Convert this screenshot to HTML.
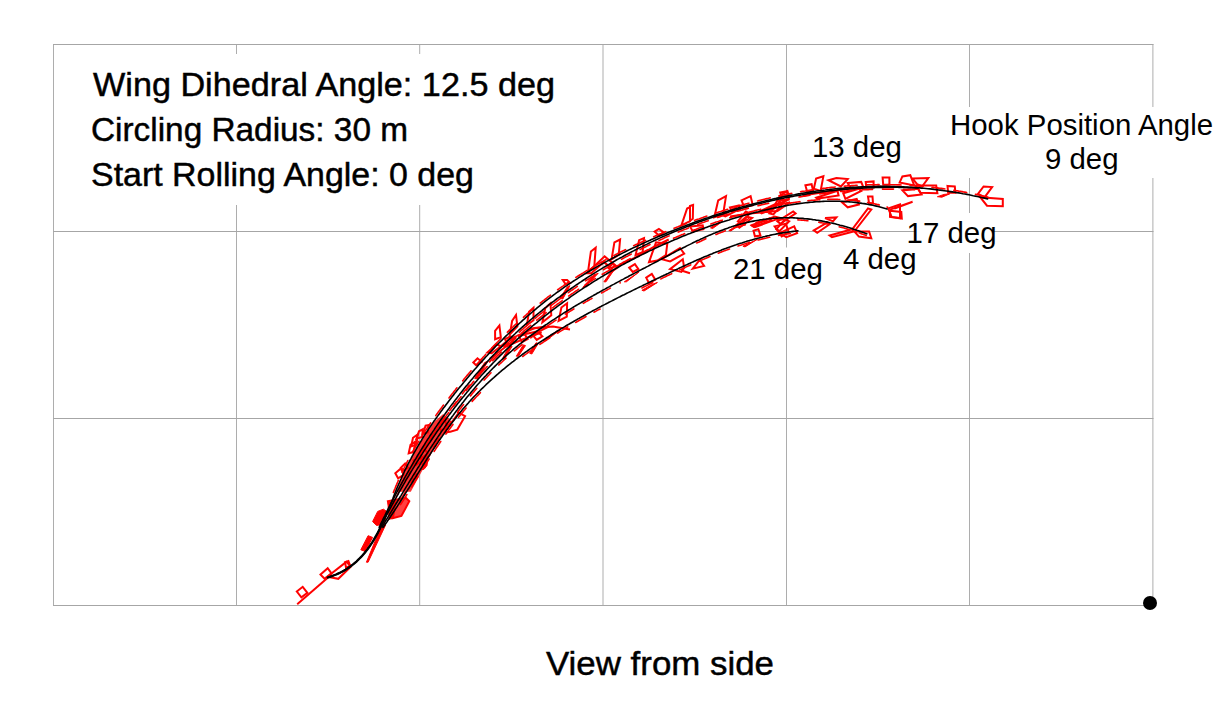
<!DOCTYPE html>
<html><head><meta charset="utf-8">
<style>
html,body{margin:0;padding:0;background:#fff;width:1229px;height:709px;overflow:hidden}
svg{display:block}
text{font-family:"Liberation Sans",sans-serif;fill:#000}
</style></head><body>
<svg width="1229" height="709" viewBox="0 0 1229 709">
<g id="grid" fill="none" stroke-width="1">
<path stroke="#adadad" d="M53.5 44V605.5M236.5 44V605.5M419.7 44V605.5M603 44V605.5M786.5 44V605.5M969.5 44V605.5M1152.9 44V605.5"/>
<path stroke="#a6a6a6" d="M53 44.5H1153.5M53 231.5H1153.5M53 418.5H1153.5M53 605.5H1153.5"/>
</g>
<g id="boxes" fill="#fff">
<rect x="70" y="54" width="520" height="151"/>
<rect x="945" y="107" width="270" height="71"/>
<rect x="916" y="213" width="77" height="40"/>
<rect x="730" y="247.5" width="95" height="40.5"/>
</g>
<g id="traj">
<g id="reds" stroke="#f00" stroke-width="2" stroke-linejoin="miter" fill="none">
<polyline points="297.2,604.2 331.5,574.6"/>
<polygon points="296.8,591.5 302.7,586.8 307.4,592.8 301.4,597.4"/>
<polygon points="320.5,574.6 327.7,568.2 331.5,573.3 324.7,578.8"/>
<polygon points="327.3,576.7 346.3,561.9 351.0,566.5 338.3,578.8"/>
<polygon points="360.8,549.8 368.1,535.7 372.6,537.4 365.3,551.5" fill="#f00" stroke-width="1"/>
<polygon points="366.4,562.2 382.2,523.9 385.6,525.0 368.1,562.2" fill="#f00" stroke-width="1"/>
<polygon points="372.6,521.6 377.7,511.4 383.4,509.2 386.7,511.4 384.5,523.9 376.6,525.5" fill="#f00" stroke-width="1"/>
<polygon points="387.9,501.3 405.9,497.9 409.3,501.3 401.4,516.0 392.4,518.2"/>
<polygon points="387.9,501.3 405.9,497.9 409.3,501.3 401.4,516.0 392.4,518.2" fill="#f00" fill-opacity="0.75" stroke="none"/>
<polygon points="387.9,502.4 395.8,501.3 393.5,518.2 389.0,519.3" fill="#f00" stroke-width="1"/>
<polygon points="345.0,562.2 348.4,561.1 350.1,565.6 346.1,567.9"/>
<polygon points="395.3,473.3 400.9,468.4 403.7,474.8 398.1,478.3"/>
<polygon points="400.9,467.7 405.1,463.5 408.0,467.7 403.7,470.5"/>
<polygon points="408.7,453.3 410.5,444.9 415.3,441.7 413.6,451.9"/>
<polygon points="411.1,446.5 413.0,437.8 417.8,434.4 416.4,444.6"/>
<polygon points="416.4,438.8 419.0,431.3 422.8,429.3 422.1,437.0"/>
<polygon points="422.8,433.9 425.6,425.7 429.1,425.1 427.7,432.4"/>
<polygon points="396.7,491.7 402.3,476.2 409.4,462.1 417.8,446.5 426.3,433.9 434.8,421.2 443.2,414.1 450.3,419.7 444.6,432.4 436.2,445.1 427.7,460.6 419.2,476.2 410.8,491.7" fill="#f00" fill-opacity="0.8" stroke="none"/>
<polygon points="444.6,432.4 458.7,412.7 465.1,416.2 457.3,429.6 450.3,431.7"/>
<polygon points="421.4,469.8 424.2,462.1 427.7,459.9 427.0,465.6 424.2,469.1" fill="#f00" stroke-width="1"/>
<polygon points="439.0,425.4 444.6,419.7 447.4,426.8 441.1,431.0"/>
<polygon points="413.6,460.6 419.2,456.4 422.1,460.6 416.4,464.9"/>
<polygon points="419.2,453.6 424.9,449.4 427.7,453.6 422.1,457.8"/>
<polygon points="473.3,362.5 477.5,358.3 481.7,361.8 476.1,365.3"/>
<polygon points="474.7,378.7 484.6,362.5 488.1,361.1 477.5,378.7" fill="#f00" stroke-width="1"/>
<polygon points="495.1,339.2 495.1,330.8 499.4,325.4 500.8,337.1"/>
<polygon points="509.9,334.3 512.1,320.9 516.0,315.0 517.4,326.5"/>
<polygon points="526.9,325.1 529.0,311.7 533.5,307.8 533.5,320.2"/>
<polygon points="542.4,322.3 545.2,308.2 550.4,303.3 551.3,315.3"/>
<polygon points="558.6,320.9 561.4,307.5 567.1,303.3 566.8,316.7"/>
<polygon points="487.4,352.6 496.5,344.2 500.8,346.3 491.6,353.3"/>
<polygon points="500.8,346.3 509.2,339.2 516.3,336.4 510.6,343.5"/>
<polygon points="505.0,339.2 510.6,336.4 513.5,342.1 507.8,344.9"/>
<polygon points="519.1,336.4 524.8,334.3 527.6,339.2 521.9,342.1"/>
<polygon points="533.2,335.7 538.9,332.9 542.4,336.4 536.7,339.9"/>
<polygon points="502.2,359.0 509.2,346.3 512.1,346.3 504.3,359.0" fill="#f00" stroke-width="1"/>
<polygon points="516.3,356.2 523.3,344.9 525.5,345.6 518.4,356.2" fill="#f00" stroke-width="1"/>
<polygon points="529.7,353.3 536.0,342.8 538.2,343.5 531.8,354.0" fill="#f00" stroke-width="1"/>
<polyline points="529.0,328.7 553.0,326.5 570.0,329.4"/>
<polygon points="517.7,335.7 534.6,328.0 548.7,326.5 540.3,330.8"/>
<polygon points="560.0,298.3 567.1,287.1 570.0,285.6 562.8,299.0" fill="#f00" stroke-width="1"/>
<polygon points="562.8,280.0 567.1,280.0 570.0,282.8 565.7,284.2"/>
<polygon points="543.1,340.6 557.2,330.8 560.0,330.1 545.9,340.6" fill="#f00" stroke-width="1"/>
<polyline points="489.5,359.0 506.4,346.3 523.3,339.2 541.7,332.2"/>
<polygon points="588.1,271.2 590.9,251.5 595.7,247.7 594.3,266.3"/>
<polygon points="586.9,273.3 604.6,256.4 616.5,266.3 610.9,267.7 603.9,262.1 591.2,273.3"/>
<polygon points="611.6,259.2 614.4,242.3 620.1,239.5 618.7,255.0"/>
<polygon points="608.1,267.7 612.3,263.5 617.2,267.7 612.3,271.2"/>
<polygon points="635.6,255.0 639.1,240.2 644.0,238.1 642.6,252.2"/>
<polygon points="603.9,281.8 610.9,271.9 613.7,270.5 606.0,281.8" fill="#f00" stroke-width="1"/>
<polygon points="582.7,287.4 594.0,274.8 598.2,273.3 585.5,286.7" fill="#f00" stroke-width="1"/>
<polygon points="629.2,267.7 634.9,264.2 638.4,269.1 632.8,271.9"/>
<polygon points="624.3,281.8 634.9,274.8 639.1,271.9 626.4,281.8" fill="#f00" stroke-width="1"/>
<polygon points="646.2,277.6 651.8,274.0 655.3,279.7 649.0,283.2"/>
<polygon points="641.9,290.3 653.2,283.9 657.4,282.5 644.0,291.0" fill="#f00" stroke-width="1"/>
<polygon points="654.6,231.7 658.9,228.9 663.8,232.4 658.9,235.3"/>
<polygon points="649.0,262.1 656.0,242.3 667.3,243.7 665.9,255.0 657.4,260.6"/>
<polygon points="661.7,259.2 680.0,248.0 684.2,253.6 670.1,261.4"/>
<polygon points="681.4,225.4 687.1,208.5 690.0,207.1 690.0,221.2"/>
<polygon points="670.1,269.1 682.8,259.2 684.2,267.7 681.4,271.9"/>
<polyline points="681.4,270.5 690.0,273.3"/>
<polyline points="616.5,266.3 637.7,256.4 654.6,246.5 668.7,239.5"/>
<polygon points="690.0,206.0 693.1,205.0 692.8,218.7 690.0,220.8"/>
<polygon points="714.3,217.2 718.2,200.3 726.0,196.1 723.1,214.4"/>
<polygon points="741.5,200.3 750.6,196.1 752.8,205.3 744.3,207.4"/>
<polygon points="722.4,215.1 738.0,206.0 740.1,208.8 725.3,216.5"/>
<polygon points="710.5,227.8 719.6,222.2 722.4,221.5 712.6,228.5" fill="#f00" stroke-width="1"/>
<polygon points="690.0,226.4 702.7,225.3 703.4,229.2 692.8,231.4"/>
<polygon points="728.8,230.6 746.4,219.4 749.2,218.4 730.9,230.9" fill="#f00" stroke-width="1"/>
<polygon points="736.5,225.0 746.4,216.5 752.1,218.0 739.4,227.8"/>
<polygon points="752.1,225.7 774.6,216.5 780.3,218.0 754.9,227.1"/>
<polygon points="774.6,205.3 780.3,195.4 787.3,191.2 788.7,199.6"/>
<polygon points="780.3,192.6 787.3,191.2 788.7,195.4 781.7,196.8"/>
<polygon points="774.6,226.4 785.9,223.6 788.7,232.1 781.7,236.3"/>
<polygon points="760.5,212.3 774.6,205.3 790.0,202.4 777.4,210.9"/>
<polygon points="753.5,230.6 758.4,229.2 760.5,235.6 754.9,236.3"/>
<polygon points="742.9,246.2 754.9,240.5 757.7,239.1 745.0,246.9" fill="#f00" stroke-width="1"/>
<polygon points="692.8,268.7 699.9,259.6 704.1,265.9"/>
<polygon points="805.4,185.3 811.6,184.2 813.3,191.5 807.1,191.5"/>
<polygon points="813.8,188.7 816.1,178.5 823.4,176.3 820.6,190.9"/>
<polygon points="828.5,180.2 836.4,178.0 847.7,179.1 840.9,186.4"/>
<polygon points="847.7,183.0 861.2,181.9 863.5,187.6 851.0,188.7"/>
<polygon points="865.7,181.9 873.6,181.4 873.6,187.6 866.3,187.6"/>
<polygon points="882.6,177.4 889.4,177.4 889.4,184.7 883.2,184.7"/>
<polygon points="816.1,197.7 837.5,190.9 838.6,195.4 817.2,198.8"/>
<polygon points="843.2,193.2 858.9,188.7 861.2,190.9 845.4,198.8"/>
<polygon points="842.0,202.2 856.7,198.8 858.9,204.5 847.7,207.3"/>
<polygon points="868.0,196.6 872.5,196.6 873.0,203.3 869.1,203.3"/>
<polygon points="813.8,230.4 827.4,222.5 829.6,224.2 817.2,232.7"/>
<polygon points="825.1,218.0 836.4,217.4 833.0,221.4"/>
<polygon points="852.2,229.3 868.0,208.4 871.3,209.5 855.6,229.8"/>
<polygon points="829.6,235.5 852.2,229.3 853.3,231.5 831.9,237.2"/>
<polygon points="854.4,231.5 869.1,231.5 871.3,238.3 858.9,236.6"/>
<polygon points="888.3,208.4 900.0,204.5 900.0,218.0 891.6,216.9"/>
<polyline points="802.6,195.4 825.1,192.1 858.9,187.6 881.5,186.4"/>
<polygon points="899.6,182.6 902.4,176.4 910.3,175.2 914.2,185.4"/>
<polygon points="912.6,178.6 928.3,178.0 922.1,186.5 917.1,184.2"/>
<polygon points="915.9,185.4 936.2,185.4 937.4,193.3 920.4,192.7"/>
<polygon points="902.4,190.4 908.0,196.1 921.6,194.4 918.2,188.8"/>
<polygon points="947.5,185.9 954.8,186.5 955.4,192.7 948.1,192.7"/>
<polygon points="937.4,196.7 944.1,194.4 949.8,193.8 941.9,197.2" fill="#f00" stroke-width="1"/>
<polygon points="978.0,193.8 983.6,186.5 992.1,187.1 984.7,197.2"/>
<polygon points="980.2,197.2 1002.8,198.9 1002.8,206.2 987.0,205.7"/>
<polyline points="894.5,208.5 912.6,201.7 890.0,209.6"/>
<polygon points="890.0,210.7 901.3,211.9 901.8,218.6 890.0,217.0"/>
<polygon points="769.5,213.4 781.3,199.6 785.3,200.6 773.4,214.4"/>
<polygon points="777.4,221.3 793.2,211.5 795.6,213.4 780.3,223.8"/>
<polygon points="776.4,229.2 785.3,219.4 789.2,221.3 779.4,231.2"/>
<polygon points="779.4,233.2 794.2,226.3 797.1,233.2 786.3,237.1"/>
<polygon points="751.7,225.3 769.5,218.4 771.5,220.3 753.7,226.8"/>
<polygon points="737.9,221.3 745.8,211.5 749.7,213.4 741.8,223.3"/>
<polygon points="759.6,211.5 774.4,204.6 776.4,207.5 761.6,213.4"/>
<polyline points="730.0,216.4 749.7,213.4 771.5,211.5"/>
<polygon points="730.0,207.5 738.9,205.5 739.9,209.5 732.0,211.5"/>
</g>
<g id="curves" fill="none" stroke="#000" stroke-width="1.6" stroke-linecap="round" stroke-linejoin="round">
<g id="fus" fill="none" stroke="#f00" stroke-width="1.6">
<path stroke-dasharray="13 9" stroke-dashoffset="0" d="M393.4,492.4 393.9,491.1 394.4,489.8 395.0,488.5 395.5,487.2 396.0,485.9 396.6,484.6 397.1,483.3 397.7,482.0 398.2,480.7 398.8,479.4 399.4,478.1 399.9,476.9 400.5,475.6 401.1,474.3 401.7,473.0 402.3,471.8 402.9,470.5 403.5,469.3 404.1,468.0 404.7,466.8 405.3,465.5 405.9,464.3 406.6,463.0 407.2,461.8 407.8,460.6 408.5,459.4 409.1,458.1 409.8,456.9 410.4,455.7 411.1,454.5 411.8,453.3 412.4,452.1 413.1,450.9 413.8,449.7 414.5,448.5 415.2,447.3 415.9,446.1 416.6,444.9 417.3,443.8 418.0,442.6 418.7,441.4 419.4,440.2 420.1,439.1 420.8,437.9 421.6,436.7 422.3,435.6 423.0,434.4 423.8,433.3 424.5,432.1 425.3,431.0 426.0,429.8 426.8,428.7 427.5,427.5 428.3,426.4 429.1,425.3 429.8,424.1 430.6,423.0 431.4,421.9 432.2,420.7 432.9,419.6 433.7,418.5 434.5,417.4 435.3,416.3 436.1,415.1 436.9,414.0 437.7,412.9 438.5,411.8 439.3,410.7 440.1,409.6 441.0,408.5 441.8,407.4 442.6,406.3 443.4,405.2 444.3,404.1 445.1,403.0 445.9,401.9 446.8,400.8 447.6,399.7 448.4,398.6 449.3,397.5 450.1,396.4 451.0,395.3 451.8,394.2 452.7,393.2 453.5,392.1 454.4,391.0 455.3,389.9 456.1,388.8 457.0,387.7 457.9,386.7 458.8,385.6 459.6,384.5 460.5,383.4 461.4,382.4 462.3,381.3 463.2,380.2 464.0,379.1 464.9,378.1 465.8,377.0 466.7,375.9 467.6,374.9 468.5,373.8 469.4,372.7 470.3,371.7 471.3,370.6 472.2,369.6 473.1,368.5 474.0,367.5 474.9,366.4 475.8,365.4 476.8,364.3 477.7,363.3 478.6,362.2 479.6,361.2 480.5,360.1 481.4,359.1 482.4,358.1 483.3,357.0 484.3,356.0 485.2,355.0 486.2,353.9 487.1,352.9 488.1,351.9 489.0,350.9 490.0,349.8 490.9,348.8 491.9,347.8 492.9,346.8 493.8,345.8 494.8,344.8 495.8,343.8 496.8,342.8 497.8,341.8 498.7,340.8 499.7,339.8 500.7,338.8 501.7,337.8 502.7,336.8 503.7,335.8 504.7,334.8 505.7,333.8 506.7,332.9 507.7,331.9 508.7,330.9 509.7,329.9 510.7,329.0 511.7,328.0 512.8,327.1 513.8,326.1 514.8,325.1 515.8,324.2 516.8,323.2 517.9,322.3 518.9,321.4 519.9,320.4 521.0,319.5 522.0,318.6 523.1,317.6 524.1,316.7 525.1,315.8 526.2,314.9 527.2,313.9 528.3,313.0 529.4,312.1 530.4,311.2 531.5,310.3 532.5,309.4 533.6,308.5 534.7,307.6 535.7,306.7 536.8,305.9 537.9,305.0 539.0,304.1 540.0,303.2 541.1,302.4 542.2,301.5 543.3,300.6 544.4,299.8 545.5,298.9 546.6,298.1 547.7,297.2 548.8,296.4 549.9,295.6 551.0,294.7 552.1,293.9 553.2,293.1 554.3,292.2 555.4,291.4 556.5,290.6 557.6,289.8 558.8,289.0 559.9,288.2 561.0,287.4 562.1,286.6 563.3,285.8 564.4,285.0 565.5,284.3 566.7,283.5 567.8,282.7 568.9,282.0 570.1,281.2 571.2,280.4 572.4,279.7 573.5,278.9 574.7,278.2 575.8,277.4 577.0,276.7 578.1,276.0 579.3,275.2 580.5,274.5 581.6,273.8 582.8,273.1 584.0,272.3 585.1,271.6 586.3,270.9 587.5,270.2 588.6,269.5 589.8,268.8 591.0,268.1 592.2,267.4 593.4,266.7 594.6,266.1 595.7,265.4 596.9,264.7 598.1,264.0 599.3,263.3 600.5,262.7 601.7,262.0 602.9,261.4 604.1,260.7 605.3,260.0 606.5,259.4 607.7,258.7 608.9,258.1 610.1,257.5 611.4,256.8 612.6,256.2 613.8,255.5 615.0,254.9 616.2,254.3 617.4,253.7 618.7,253.0 619.9,252.4 621.1,251.8 622.3,251.2 623.6,250.6 624.8,250.0 626.0,249.4 627.3,248.8 628.5,248.2 629.7,247.6 631.0,247.0 632.2,246.4 633.5,245.8 634.7,245.2 636.0,244.6 637.2,244.1 638.5,243.5 639.7,242.9 641.0,242.3 642.2,241.8 643.5,241.2 644.7,240.6 646.0,240.1 647.3,239.5 648.5,238.9 649.8,238.4 651.0,237.8 652.3,237.3 653.6,236.7 654.8,236.2 656.1,235.6 657.4,235.1 658.7,234.6 659.9,234.0 661.2,233.5 662.5,232.9 663.8,232.4 665.1,231.9 666.3,231.3 667.6,230.8 668.9,230.3 670.2,229.8 671.5,229.3 672.8,228.7 674.1,228.2 675.4,227.7 676.7,227.2 678.0,226.7 679.2,226.2 680.5,225.7 681.8,225.2 683.1,224.7 684.4,224.2 685.8,223.7 687.1,223.2 688.4,222.7 689.7,222.2 691.0,221.7 692.3,221.2 693.6,220.8 694.9,220.3 696.2,219.8 697.5,219.3 698.9,218.9 700.2,218.4 701.5,217.9 702.8,217.5 704.1,217.0 705.4,216.6 706.8,216.1 708.1,215.6 709.4,215.2 710.7,214.7 712.1,214.3 713.4,213.9 714.7,213.4 716.0,213.0 717.4,212.6 718.7,212.1 720.0,211.7 721.4,211.3 722.7,210.8 724.0,210.4 725.4,210.0 726.7,209.6 728.0,209.2 729.4,208.8 730.7,208.4 732.1,208.0 733.4,207.6 734.7,207.2 736.1,206.8 737.4,206.4 738.8,206.0 740.1,205.6 741.5,205.2 742.8,204.9 744.1,204.5 745.5,204.1 746.8,203.7 748.2,203.4 749.5,203.0 750.9,202.6 752.2,202.3 753.6,201.9 754.9,201.6 756.3,201.2 757.6,200.9 759.0,200.5 760.4,200.2 761.7,199.9 763.1,199.5 764.4,199.2 765.8,198.9 767.1,198.6 768.5,198.3 769.9,197.9 771.2,197.6 772.6,197.3 773.9,197.0 775.3,196.7 776.6,196.4 778.0,196.1 779.4,195.8 780.7,195.5 782.1,195.3 783.5,195.0 784.8,194.7 786.2,194.4 787.5,194.1 788.9,193.9 790.3,193.6 791.6,193.4 793.0,193.1 794.4,192.9 795.7,192.6 797.1,192.4 798.5,192.1 799.8,191.9 801.2,191.6 802.6,191.4 803.9,191.2 805.3,191.0 806.7,190.7 808.0,190.5 809.4,190.3 810.8,190.1 812.1,189.9 813.5,189.7 814.9,189.5 816.2,189.3 817.6,189.1 819.0,188.9 820.3,188.8 821.7,188.6 823.1,188.4 824.4,188.2 825.8,188.1 827.2,187.9 828.5,187.8 829.9,187.6 831.3,187.4 832.6,187.3 834.0,187.2 835.4,187.0 836.8,186.9 838.1,186.7 839.5,186.6 840.9,186.5 842.2,186.4 843.6,186.3 845.0,186.1 846.4,186.0 847.7,185.9 849.1,185.8 850.5,185.7 851.8,185.6 853.2,185.6 854.6,185.5 856.0,185.4 857.3,185.3 858.7,185.2 860.1,185.2 861.5,185.1 862.8,185.0 864.2,185.0 865.6,184.9 866.9,184.9 868.3,184.8 869.7,184.8 871.1,184.8 872.4,184.7 873.8,184.7 875.2,184.7 876.6,184.7 877.9,184.6 879.3,184.6 880.7,184.6 882.1,184.6 883.4,184.6 884.8,184.6 886.2,184.6 887.6,184.6 888.9,184.7 890.3,184.7 891.7,184.7 893.1,184.7 894.4,184.8 895.8,184.8 897.2,184.9 898.6,184.9 899.9,184.9 901.3,185.0 902.7,185.1 904.1,185.1 905.4,185.2 906.8,185.3 908.2,185.3 909.6,185.4 910.9,185.5 912.3,185.6 913.7,185.7 915.1,185.8 916.4,185.9 917.8,186.0 919.2,186.1 920.6,186.2 921.9,186.3 923.3,186.4 924.7,186.6 926.1,186.7 927.5,186.8 928.8,187.0 930.2,187.1 931.6,187.3 933.0,187.4 934.3,187.6 935.7,187.7 937.1,187.9 938.5,188.1 939.8,188.3 941.2,188.4 942.6,188.6 944.0,188.8 945.4,189.0 946.7,189.2 948.1,189.4 949.5,189.6 950.9,189.8 952.2,190.0 953.6,190.2 955.0,190.5 956.4,190.7 957.7,190.9 959.1,191.2 960.5,191.4 961.9,191.6 963.3,191.9 964.6,192.1 966.0,192.4 967.4,192.7 968.8,192.9 970.1,193.2 971.5,193.5 972.9,193.8 974.3,194.1 975.6,194.3 977.0,194.6 978.4,194.9 979.8,195.2 981.1,195.6 982.5,195.9 983.9,196.2 985.3,196.5 986.7,196.8 988.0,197.2"/>
<path stroke-dasharray="11 10" stroke-dashoffset="5" d="M397.1,495.4 397.7,494.3 398.3,493.2 398.9,492.1 399.5,491.0 400.1,489.9 400.7,488.8 401.3,487.7 401.9,486.5 402.5,485.4 403.1,484.3 403.7,483.2 404.3,482.1 404.9,481.0 405.5,479.9 406.1,478.8 406.8,477.7 407.4,476.6 408.0,475.5 408.6,474.5 409.2,473.4 409.9,472.3 410.5,471.2 411.1,470.1 411.7,469.0 412.4,467.9 413.0,466.8 413.6,465.7 414.3,464.7 414.9,463.6 415.6,462.5 416.2,461.4 416.8,460.3 417.5,459.3 418.1,458.2 418.8,457.1 419.4,456.0 420.1,455.0 420.7,453.9 421.4,452.8 422.1,451.7 422.7,450.7 423.4,449.6 424.0,448.5 424.7,447.5 425.4,446.4 426.0,445.4 426.7,444.3 427.4,443.2 428.1,442.2 428.7,441.1 429.4,440.1 430.1,439.0 430.8,438.0 431.5,436.9 432.2,435.9 432.8,434.8 433.5,433.8 434.2,432.7 434.9,431.7 435.6,430.7 436.3,429.6 437.0,428.6 437.7,427.6 438.4,426.5 439.1,425.5 439.8,424.5 440.5,423.4 441.3,422.4 442.0,421.4 442.7,420.3 443.4,419.3 444.1,418.3 444.8,417.3 445.6,416.3 446.3,415.2 447.0,414.2 447.8,413.2 448.5,412.2 449.2,411.2 450.0,410.2 450.7,409.2 451.4,408.2 452.2,407.2 452.9,406.2 453.7,405.2 454.4,404.2 455.2,403.2 455.9,402.2 456.7,401.2 457.4,400.2 458.2,399.2 458.9,398.2 459.7,397.2 460.5,396.2 461.2,395.2 462.0,394.3 462.8,393.3 463.6,392.3 464.3,391.3 465.1,390.3 465.9,389.4 466.7,388.4 467.5,387.4 468.2,386.5 469.0,385.5 469.8,384.5 470.6,383.6 471.4,382.6 472.2,381.7 473.0,380.7 473.8,379.7 474.6,378.8 475.4,377.8 476.2,376.9 477.0,376.0 477.8,375.0 478.7,374.1 479.5,373.1 480.3,372.2 481.1,371.2 481.9,370.3 482.8,369.4 483.6,368.5 484.4,367.5 485.3,366.6 486.1,365.7 486.9,364.7 487.8,363.8 488.6,362.9 489.4,362.0 490.3,361.1 491.1,360.2 492.0,359.3 492.8,358.3 493.7,357.4 494.6,356.5 495.4,355.6 496.3,354.7 497.1,353.8 498.0,352.9 498.9,352.1 499.7,351.2 500.6,350.3 501.5,349.4 502.4,348.5 503.2,347.6 504.1,346.7 505.0,345.9 505.9,345.0 506.8,344.1 507.7,343.2 508.6,342.4 509.5,341.5 510.4,340.6 511.3,339.8 512.2,338.9 513.1,338.1 514.0,337.2 514.9,336.4 515.8,335.5 516.7,334.7 517.6,333.8 518.5,333.0 519.5,332.1 520.4,331.3 521.3,330.4 522.2,329.6 523.2,328.8 524.1,327.9 525.0,327.1 526.0,326.3 526.9,325.5 527.8,324.6 528.8,323.8 529.7,323.0 530.7,322.2 531.6,321.4 532.6,320.6 533.5,319.7 534.5,318.9 535.4,318.1 536.4,317.3 537.3,316.5 538.3,315.7 539.3,314.9 540.2,314.1 541.2,313.4 542.2,312.6 543.1,311.8 544.1,311.0 545.1,310.2 546.1,309.4 547.1,308.7 548.0,307.9 549.0,307.1 550.0,306.3 551.0,305.6 552.0,304.8 553.0,304.0 554.0,303.3 555.0,302.5 556.0,301.8 557.0,301.0 558.0,300.3 559.0,299.5 560.0,298.8 561.0,298.0 562.0,297.3 563.0,296.5 564.0,295.8 565.0,295.1 566.0,294.3 567.1,293.6 568.1,292.9 569.1,292.1 570.1,291.4 571.1,290.7 572.2,290.0 573.2,289.3 574.2,288.5 575.3,287.8 576.3,287.1 577.3,286.4 578.4,285.7 579.4,285.0 580.5,284.3 581.5,283.6 582.5,282.9 583.6,282.2 584.6,281.5 585.7,280.8 586.7,280.1 587.8,279.5 588.8,278.8 589.9,278.1 591.0,277.4 592.0,276.8 593.1,276.1 594.1,275.4 595.2,274.7 596.3,274.1 597.3,273.4 598.4,272.8 599.5,272.1 600.6,271.4 601.6,270.8 602.7,270.1 603.8,269.5 604.9,268.8 605.9,268.2 607.0,267.6 608.1,266.9 609.2,266.3 610.3,265.7 611.4,265.0 612.5,264.4 613.5,263.8 614.6,263.1 615.7,262.5 616.8,261.9 617.9,261.3 619.0,260.7 620.1,260.1 621.2,259.5 622.3,258.8 623.4,258.2 624.5,257.6 625.6,257.0 626.7,256.4 627.9,255.9 629.0,255.3 630.1,254.7 631.2,254.1 632.3,253.5 633.4,252.9 634.5,252.3 635.7,251.8 636.8,251.2 637.9,250.6 639.0,250.0 640.2,249.5 641.3,248.9 642.4,248.3 643.5,247.8 644.7,247.2 645.8,246.7 646.9,246.1 648.1,245.6 649.2,245.0 650.3,244.5 651.5,243.9 652.6,243.4 653.8,242.9 654.9,242.3 656.0,241.8 657.2,241.3 658.3,240.7 659.5,240.2 660.6,239.7 661.8,239.2 662.9,238.7 664.1,238.1 665.2,237.6 666.4,237.1 667.5,236.6 668.7,236.1 669.8,235.6 671.0,235.1 672.2,234.6 673.3,234.1 674.5,233.6 675.6,233.1 676.8,232.7 678.0,232.2 679.1,231.7 680.3,231.2 681.5,230.7 682.6,230.3 683.8,229.8 685.0,229.3 686.2,228.9 687.3,228.4 688.5,227.9 689.7,227.5 690.9,227.0 692.0,226.6 693.2,226.1 694.4,225.7 695.6,225.2 696.7,224.8 697.9,224.3 699.1,223.9 700.3,223.5 701.5,223.0 702.7,222.6 703.9,222.2 705.0,221.8 706.2,221.3 707.4,220.9 708.6,220.5 709.8,220.1 711.0,219.7 712.2,219.3 713.4,218.9 714.6,218.5 715.8,218.1 717.0,217.7 718.2,217.3 719.4,216.9 720.6,216.5 721.8,216.1 723.0,215.7 724.2,215.3 725.4,215.0 726.6,214.6 727.8,214.2 729.0,213.8 730.2,213.5 731.4,213.1 732.6,212.7 733.8,212.4 735.0,212.0 736.2,211.7 737.4,211.3 738.6,211.0 739.8,210.6 741.1,210.3 742.3,209.9 743.5,209.6 744.7,209.2 745.9,208.9 747.1,208.6 748.3,208.3 749.6,207.9 750.8,207.6 752.0,207.3 753.2,207.0 754.4,206.7 755.7,206.3 756.9,206.0 758.1,205.7 759.3,205.4 760.5,205.1 761.8,204.8 763.0,204.5 764.2,204.2 765.4,203.9 766.7,203.7 767.9,203.4 769.1,203.1 770.3,202.8 771.6,202.5 772.8,202.3 774.0,202.0 775.2,201.7 776.5,201.5 777.7,201.2 778.9,200.9 780.2,200.7 781.4,200.4 782.6,200.2 783.9,199.9 785.1,199.7 786.3,199.4 787.5,199.2 788.8,198.9 790.0,198.7 791.3,198.5 792.5,198.2 793.7,198.0 795.0,197.8 796.2,197.6 797.4,197.4 798.7,197.1 799.9,196.9 801.1,196.7 802.4,196.5 803.6,196.3 804.8,196.1 806.1,195.9 807.3,195.7 808.6,195.5 809.8,195.3 811.0,195.1 812.3,195.0 813.5,194.8 814.8,194.6 816.0,194.4 817.2,194.2 818.5,194.1 819.7,193.9 821.0,193.7 822.2,193.6 823.5,193.4 824.7,193.3 825.9,193.1 827.2,193.0 828.4,192.8 829.7,192.7 830.9,192.5 832.2,192.4 833.4,192.2 834.6,192.1 835.9,192.0 837.1,191.9 838.4,191.7 839.6,191.6 840.9,191.5 842.1,191.4 843.3,191.3 844.6,191.1 845.8,191.0 847.1,190.9 848.3,190.8 849.6,190.7 850.8,190.6 852.1,190.5 853.3,190.4 854.5,190.4 855.8,190.3 857.0,190.2 858.3,190.1 859.5,190.0 860.8,190.0 862.0,189.9 863.3,189.8 864.5,189.8 865.8,189.7 867.0,189.6 868.2,189.6 869.5,189.5 870.7,189.5 872.0,189.4 873.2,189.4 874.5,189.4 875.7,189.3 876.9,189.3 878.2,189.2 879.4,189.2 880.7,189.2 881.9,189.2 883.2,189.1 884.4,189.1 885.7,189.1 886.9,189.1 888.1,189.1 889.4,189.1 890.6,189.1 891.9,189.1 893.1,189.1 894.3,189.1 895.6,189.1 896.8,189.1 898.1,189.1 899.3,189.2 900.6,189.2 901.8,189.2 903.0,189.2 904.3,189.3 905.5,189.3 906.8,189.3 908.0,189.4 909.2,189.4 910.5,189.4 911.7,189.5 912.9,189.5 914.2,189.6 915.4,189.7 916.7,189.7 917.9,189.8"/>
<path stroke-dasharray="12 8" stroke-dashoffset="10" d="M393.7,498.2 394.3,497.2 394.9,496.1 395.5,495.1 396.0,494.0 396.6,493.0 397.2,491.9 397.8,490.9 398.4,489.8 399.0,488.8 399.6,487.7 400.2,486.7 400.8,485.6 401.4,484.6 402.0,483.6 402.6,482.5 403.2,481.5 403.8,480.4 404.4,479.4 405.0,478.4 405.6,477.3 406.3,476.3 406.9,475.3 407.5,474.2 408.1,473.2 408.7,472.2 409.3,471.1 410.0,470.1 410.6,469.1 411.2,468.1 411.8,467.0 412.5,466.0 413.1,465.0 413.7,464.0 414.3,462.9 415.0,461.9 415.6,460.9 416.2,459.9 416.9,458.9 417.5,457.8 418.2,456.8 418.8,455.8 419.4,454.8 420.1,453.8 420.7,452.8 421.4,451.8 422.0,450.8 422.7,449.8 423.3,448.8 424.0,447.8 424.7,446.8 425.3,445.8 426.0,444.8 426.6,443.8 427.3,442.8 428.0,441.8 428.6,440.8 429.3,439.8 430.0,438.8 430.6,437.8 431.3,436.8 432.0,435.8 432.7,434.8 433.3,433.9 434.0,432.9 434.7,431.9 435.4,430.9 436.1,429.9 436.7,429.0 437.4,428.0 438.1,427.0 438.8,426.0 439.5,425.1 440.2,424.1 440.9,423.1 441.6,422.1 442.3,421.2 443.0,420.2 443.7,419.2 444.4,418.3 445.1,417.3 445.8,416.4 446.5,415.4 447.2,414.4 448.0,413.5 448.7,412.5 449.4,411.6 450.1,410.6 450.8,409.7 451.6,408.7 452.3,407.8 453.0,406.8 453.7,405.9 454.5,405.0 455.2,404.0 455.9,403.1 456.7,402.1 457.4,401.2 458.1,400.3 458.9,399.3 459.6,398.4 460.4,397.5 461.1,396.6 461.9,395.6 462.6,394.7 463.4,393.8 464.1,392.9 464.9,391.9 465.6,391.0 466.4,390.1 467.2,389.2 467.9,388.3 468.7,387.4 469.5,386.5 470.2,385.6 471.0,384.6 471.8,383.7 472.5,382.8 473.3,381.9 474.1,381.0 474.9,380.1 475.7,379.2 476.5,378.4 477.2,377.5 478.0,376.6 478.8,375.7 479.6,374.8 480.4,373.9 481.2,373.0 482.0,372.1 482.8,371.3 483.6,370.4 484.4,369.5 485.2,368.6 486.0,367.8 486.8,366.9 487.7,366.0 488.5,365.1 489.3,364.3 490.1,363.4 490.9,362.6 491.8,361.7 492.6,360.8 493.4,360.0 494.2,359.1 495.1,358.3 495.9,357.4 496.7,356.6 497.6,355.7 498.4,354.9 499.3,354.0 500.1,353.2 501.0,352.4 501.8,351.5 502.7,350.7 503.5,349.9 504.4,349.0 505.2,348.2 506.1,347.4 506.9,346.5 507.8,345.7 508.7,344.9 509.5,344.1 510.4,343.3 511.3,342.4 512.2,341.6 513.0,340.8 513.9,340.0 514.8,339.2 515.7,338.4 516.6,337.6 517.4,336.8 518.3,336.0 519.2,335.2 520.1,334.4 521.0,333.6 521.9,332.8 522.8,332.0 523.7,331.2 524.6,330.4 525.5,329.7 526.4,328.9 527.3,328.1 528.2,327.3 529.1,326.5 530.1,325.8 531.0,325.0 531.9,324.2 532.8,323.5 533.7,322.7 534.6,321.9 535.6,321.2 536.5,320.4 537.4,319.6 538.4,318.9 539.3,318.1 540.2,317.4 541.2,316.6 542.1,315.9 543.0,315.1 544.0,314.4 544.9,313.7 545.9,312.9 546.8,312.2 547.8,311.4 548.7,310.7 549.7,310.0 550.6,309.3 551.6,308.5 552.5,307.8 553.5,307.1 554.4,306.4 555.4,305.6 556.4,304.9 557.3,304.2 558.3,303.5 559.3,302.8 560.2,302.1 561.2,301.4 562.2,300.7 563.1,300.0 564.1,299.3 565.1,298.6 566.1,297.9 567.1,297.2 568.0,296.5 569.0,295.8 570.0,295.1 571.0,294.4 572.0,293.7 573.0,293.1 574.0,292.4 575.0,291.7 576.0,291.0 577.0,290.4 578.0,289.7 579.0,289.0 580.0,288.3 581.0,287.7 582.0,287.0 583.0,286.4 584.0,285.7 585.0,285.0 586.0,284.4 587.0,283.7 588.0,283.1 589.0,282.4 590.1,281.8 591.1,281.2 592.1,280.5 593.1,279.9 594.1,279.2 595.2,278.6 596.2,278.0 597.2,277.3 598.2,276.7 599.3,276.1 600.3,275.5 601.3,274.8 602.4,274.2 603.4,273.6 604.4,273.0 605.5,272.4 606.5,271.8 607.6,271.2 608.6,270.6 609.6,270.0 610.7,269.4 611.7,268.8 612.8,268.2 613.8,267.6 614.9,267.0 615.9,266.4 617.0,265.8 618.0,265.2 619.1,264.6 620.2,264.0 621.2,263.5 622.3,262.9 623.3,262.3 624.4,261.7 625.4,261.2 626.5,260.6 627.6,260.0 628.6,259.5 629.7,258.9 630.8,258.3 631.8,257.8 632.9,257.2 634.0,256.7 635.1,256.1 636.1,255.6 637.2,255.0 638.3,254.5 639.4,253.9 640.4,253.4 641.5,252.9 642.6,252.3 643.7,251.8 644.8,251.3 645.9,250.7 646.9,250.2 648.0,249.7 649.1,249.2 650.2,248.7 651.3,248.1 652.4,247.6 653.5,247.1 654.6,246.6 655.7,246.1 656.8,245.6 657.9,245.1 659.0,244.6 660.0,244.1 661.1,243.6 662.2,243.1 663.3,242.6 664.5,242.1 665.6,241.6 666.7,241.1 667.8,240.7 668.9,240.2 670.0,239.7 671.1,239.2 672.2,238.8 673.3,238.3 674.4,237.8 675.5,237.4 676.6,236.9 677.7,236.4 678.9,236.0 680.0,235.5 681.1,235.1 682.2,234.6 683.3,234.2 684.4,233.7 685.6,233.3 686.7,232.8 687.8,232.4 688.9,231.9 690.1,231.5 691.2,231.1 692.3,230.6 693.4,230.2 694.5,229.8 695.7,229.4 696.8,228.9 697.9,228.5 699.1,228.1 700.2,227.7 701.3,227.3 702.5,226.9 703.6,226.5 704.7,226.1 705.8,225.7 707.0,225.3 708.1,224.9 709.3,224.5 710.4,224.1 711.5,223.7 712.7,223.3 713.8,222.9 714.9,222.5 716.1,222.1 717.2,221.8 718.4,221.4 719.5,221.0 720.6,220.6 721.8,220.3 722.9,219.9 724.1,219.5 725.2,219.2 726.4,218.8 727.5,218.5 728.7,218.1 729.8,217.7 731.0,217.4 732.1,217.1 733.3,216.7 734.4,216.4 735.6,216.0 736.7,215.7 737.9,215.4 739.0,215.0 740.2,214.7 741.3,214.4 742.5,214.0 743.6,213.7 744.8,213.4 745.9,213.1 747.1,212.8 748.2,212.4 749.4,212.1 750.5,211.8 751.7,211.5 752.9,211.2 754.0,210.9 755.2,210.6 756.3,210.3 757.5,210.0 758.7,209.7 759.8,209.5 761.0,209.2 762.1,208.9 763.3,208.6 764.5,208.3 765.6,208.1 766.8,207.8 768.0,207.5 769.1,207.3 770.3,207.0 771.5,206.7 772.6,206.5 773.8,206.2 774.9,206.0 776.1,205.7 777.3,205.5 778.5,205.3 779.6,205.0 780.8,204.8 782.0,204.6 783.1,204.4 784.3,204.1 785.5,203.9 786.6,203.7 787.8,203.5 789.0,203.3 790.2,203.1 791.3,202.9 792.5,202.7 793.7,202.5 794.9,202.4 796.0,202.2 797.2,202.0 798.4,201.9 799.6,201.7 800.7,201.5 801.9,201.4 803.1,201.2 804.3,201.1 805.5,201.0 806.6,200.8 807.8,200.7 809.0,200.6 810.2,200.5 811.3,200.4 812.5,200.3 813.7,200.2 814.9,200.1 816.1,200.0 817.3,199.9 818.4,199.8 819.6,199.8 820.8,199.7 822.0,199.6 823.2,199.6 824.4,199.5 825.5,199.5 826.7,199.5 827.9,199.4 829.1,199.4 830.3,199.4 831.5,199.4 832.7,199.4 833.9,199.4 835.0,199.4 836.2,199.4 837.4,199.4 838.6,199.5 839.8,199.5 841.0,199.5 842.2,199.6 843.4,199.7 844.6,199.7 845.8,199.8 846.9,199.9 848.1,200.0 849.3,200.0 850.5,200.1 851.7,200.3 852.9,200.4 854.1,200.5 855.3,200.6 856.5,200.8 857.7,200.9 858.9,201.1 860.1,201.2 861.3,201.4 862.5,201.6 863.7,201.8 864.9,202.0 866.1,202.2 867.3,202.4 868.5,202.6 869.6,202.8 870.8,203.1 872.0,203.3 873.2,203.6 874.4,203.8 875.6,204.1 876.8,204.4 878.0,204.6 879.2,204.9 880.4,205.3 881.6,205.6 882.8,205.9 884.0,206.2 885.2,206.6 886.4,206.9 887.6,207.3"/>
<path stroke-dasharray="10 11" stroke-dashoffset="15" d="M397.1,505.5 397.7,504.5 398.3,503.5 398.9,502.5 399.5,501.5 400.1,500.5 400.7,499.5 401.3,498.5 401.9,497.6 402.5,496.6 403.1,495.6 403.7,494.6 404.3,493.6 404.9,492.6 405.5,491.6 406.1,490.6 406.7,489.6 407.3,488.6 407.9,487.7 408.5,486.7 409.1,485.7 409.7,484.7 410.3,483.7 410.9,482.7 411.5,481.7 412.1,480.7 412.7,479.7 413.3,478.8 413.9,477.8 414.5,476.8 415.1,475.8 415.8,474.8 416.4,473.8 417.0,472.8 417.6,471.8 418.2,470.9 418.8,469.9 419.4,468.9 420.0,467.9 420.7,466.9 421.3,465.9 421.9,465.0 422.5,464.0 423.1,463.0 423.7,462.0 424.4,461.0 425.0,460.1 425.6,459.1 426.2,458.1 426.8,457.1 427.5,456.1 428.1,455.2 428.7,454.2 429.3,453.2 430.0,452.2 430.6,451.3 431.2,450.3 431.9,449.3 432.5,448.4 433.1,447.4 433.8,446.4 434.4,445.5 435.0,444.5 435.7,443.5 436.3,442.6 436.9,441.6 437.6,440.6 438.2,439.7 438.9,438.7 439.5,437.8 440.2,436.8 440.8,435.9 441.5,434.9 442.1,434.0 442.8,433.0 443.4,432.1 444.1,431.1 444.7,430.2 445.4,429.2 446.0,428.3 446.7,427.3 447.4,426.4 448.0,425.4 448.7,424.5 449.4,423.6 450.0,422.6 450.7,421.7 451.4,420.8 452.0,419.8 452.7,418.9 453.4,418.0 454.1,417.1 454.7,416.1 455.4,415.2 456.1,414.3 456.8,413.4 457.5,412.5 458.2,411.5 458.9,410.6 459.5,409.7 460.2,408.8 460.9,407.9 461.6,407.0 462.3,406.1 463.0,405.2 463.7,404.3 464.4,403.4 465.1,402.5 465.9,401.6 466.6,400.7 467.3,399.8 468.0,398.9 468.7,398.0 469.4,397.2 470.1,396.3 470.9,395.4 471.6,394.5 472.3,393.6 473.0,392.8 473.8,391.9 474.5,391.0 475.2,390.2 476.0,389.3 476.7,388.4 477.5,387.6 478.2,386.7 479.0,385.9 479.7,385.0 480.5,384.2 481.2,383.3 482.0,382.5 482.7,381.6 483.5,380.8 484.2,380.0 485.0,379.1 485.8,378.3 486.5,377.5 487.3,376.7 488.1,375.8 488.9,375.0 489.6,374.2 490.4,373.4 491.2,372.6 492.0,371.8 492.8,371.0 493.6,370.1 494.4,369.3 495.2,368.5 496.0,367.8 496.8,367.0 497.6,366.2 498.4,365.4 499.2,364.6 500.0,363.8 500.8,363.0 501.7,362.3 502.5,361.5 503.3,360.7 504.1,360.0 505.0,359.2 505.8,358.4 506.6,357.7 507.5,356.9 508.3,356.2 509.2,355.4 510.0,354.7 510.9,354.0 511.7,353.2 512.6,352.5 513.4,351.7 514.3,351.0 515.1,350.3 516.0,349.6 516.9,348.8 517.7,348.1 518.6,347.4 519.5,346.7 520.4,346.0 521.2,345.3 522.1,344.6 523.0,343.8 523.9,343.1 524.8,342.4 525.7,341.7 526.6,341.1 527.5,340.4 528.4,339.7 529.3,339.0 530.2,338.3 531.1,337.6 532.0,336.9 532.9,336.3 533.8,335.6 534.7,334.9 535.6,334.2 536.6,333.6 537.5,332.9 538.4,332.2 539.3,331.6 540.2,330.9 541.2,330.3 542.1,329.6 543.0,328.9 544.0,328.3 544.9,327.6 545.8,327.0 546.8,326.3 547.7,325.7 548.7,325.1 549.6,324.4 550.6,323.8 551.5,323.1 552.5,322.5 553.4,321.9 554.4,321.2 555.3,320.6 556.3,320.0 557.2,319.4 558.2,318.7 559.2,318.1 560.1,317.5 561.1,316.9 562.1,316.3 563.0,315.7 564.0,315.0 565.0,314.4 566.0,313.8 566.9,313.2 567.9,312.6 568.9,312.0 569.9,311.4 570.8,310.8 571.8,310.2 572.8,309.6 573.8,309.0 574.8,308.4 575.8,307.8 576.8,307.2 577.8,306.6 578.7,306.0 579.7,305.5 580.7,304.9 581.7,304.3 582.7,303.7 583.7,303.1 584.7,302.5 585.7,301.9 586.7,301.4 587.7,300.8 588.7,300.2 589.7,299.6 590.7,299.1 591.7,298.5 592.8,297.9 593.8,297.3 594.8,296.8 595.8,296.2 596.8,295.6 597.8,295.1 598.8,294.5 599.8,293.9 600.9,293.4 601.9,292.8 602.9,292.2 603.9,291.7 604.9,291.1 605.9,290.6 607.0,290.0 608.0,289.4 609.0,288.9 610.0,288.3 611.0,287.8 612.1,287.2 613.1,286.7 614.1,286.1 615.1,285.6 616.2,285.0 617.2,284.5 618.2,283.9 619.2,283.4 620.3,282.8"/>
<path stroke-dasharray="10 11" stroke-dashoffset="15" d="M691.4,245.6 692.4,245.1 693.4,244.6 694.5,244.1 695.5,243.6 696.5,243.1 697.6,242.6 698.6,242.2 699.6,241.7 700.7,241.2 701.7,240.7 702.7,240.2 703.8,239.8 704.8,239.3 705.8,238.8 706.9,238.4 707.9,237.9 709.0,237.4 710.0,237.0 711.0,236.5 712.1,236.1 713.1,235.7 714.2,235.2 715.2,234.8 716.2,234.4 717.3,233.9 718.3,233.5 719.4,233.1 720.4,232.7 721.5,232.3 722.5,231.9 723.6,231.5 724.6,231.1 725.7,230.7 726.7,230.4 727.8,230.0 728.8,229.6 729.9,229.3 730.9,228.9 732.0,228.6 733.1,228.2 734.1,227.9 735.2,227.6 736.2,227.2 737.3,226.9 738.4,226.6 739.4,226.3 740.5,226.0 741.6,225.7 742.7,225.4 743.7,225.1 744.8,224.9 745.9,224.6 747.0,224.3 748.0,224.1 749.1,223.8 750.2,223.6 751.3,223.4 752.4,223.1 753.5,222.9 754.6,222.7 755.7,222.5 756.7,222.3 757.8,222.1 758.9,221.9 760.0,221.8 761.1,221.6 762.2,221.4 763.3,221.3 764.4,221.1 765.5,221.0 766.6,220.8 767.7,220.7 768.8,220.6 770.0,220.5 771.1,220.4 772.2,220.3 773.3,220.2 774.4,220.1 775.5,220.0 776.6,219.9 777.7,219.9 778.8,219.8 780.0,219.7 781.1,219.7 782.2,219.7 783.3,219.6 784.4,219.6 785.6,219.6 786.7,219.6 787.8,219.6 788.9,219.6 790.0,219.6 791.2,219.6 792.3,219.6 793.4,219.7 794.5,219.7 795.7,219.8 796.8,219.8 797.9,219.9 799.0,220.0 800.2,220.0 801.3,220.1 802.4,220.2 803.5,220.3 804.7,220.4 805.8,220.5 806.9,220.6 808.1,220.8 809.2,220.9 810.3,221.0 811.5,221.2 812.6,221.4 813.7,221.5 814.8,221.7 816.0,221.9 817.1,222.0 818.2,222.2 819.4,222.4 820.5,222.6 821.6,222.8 822.8,223.0 823.9,223.2 825.0,223.5 826.1,223.7 827.3,223.9 828.4,224.2 829.5,224.4 830.7,224.7 831.8,224.9 832.9,225.2 834.0,225.5 835.1,225.7 836.3,226.0 837.4,226.3 838.5,226.6 839.6,226.9 840.8,227.2 841.9,227.5 843.0,227.8 844.1,228.1 845.2,228.5 846.3,228.8 847.5,229.1 848.6,229.5 849.7,229.8 850.8,230.2 851.9,230.5 853.0,230.9 854.1,231.2 855.2,231.6 856.3,232.0 857.4,232.3 858.5,232.7 859.6,233.1 860.7,233.5 861.8,233.9 862.9,234.3 864.0,234.7 865.1,235.1 866.2,235.5"/>
<path stroke-dasharray="12 9" stroke-dashoffset="20" d="M400.0,505.5 400.5,504.6 401.1,503.8 401.6,502.9 402.2,502.1 402.7,501.2 403.3,500.3 403.8,499.5 404.3,498.6 404.9,497.7 405.4,496.9 406.0,496.0 406.5,495.1 407.1,494.3 407.6,493.4 408.2,492.5 408.7,491.7 409.2,490.8 409.8,489.9 410.3,489.1 410.9,488.2 411.4,487.3 412.0,486.5 412.5,485.6 413.0,484.7 413.6,483.9 414.1,483.0 414.7,482.1 415.2,481.2 415.7,480.4 416.3,479.5 416.8,478.6 417.4,477.8 417.9,476.9 418.5,476.0 419.0,475.2 419.5,474.3 420.1,473.4 420.6,472.5 421.2,471.7 421.7,470.8 422.3,469.9 422.8,469.1 423.4,468.2 423.9,467.3 424.4,466.5 425.0,465.6 425.5,464.7 426.1,463.9 426.6,463.0 427.2,462.2 427.7,461.3 428.3,460.4 428.8,459.6 429.4,458.7 429.9,457.8 430.5,457.0 431.0,456.1 431.6,455.3 432.2,454.4 432.7,453.6 433.3,452.7 433.8,451.8 434.4,451.0 435.0,450.1 435.5,449.3 436.1,448.4 436.6,447.6 437.2,446.7 437.8,445.9 438.3,445.1 438.9,444.2 439.5,443.4 440.0,442.5 440.6,441.7 441.2,440.9 441.8,440.0 442.3,439.2 442.9,438.3 443.5,437.5 444.1,436.7 444.7,435.9 445.3,435.0 445.8,434.2 446.4,433.4 447.0,432.6 447.6,431.7 448.2,430.9 448.8,430.1 449.4,429.3 450.0,428.5 450.6,427.7 451.2,426.8 451.8,426.0 452.4,425.2 453.0,424.4 453.6,423.6 454.2,422.8 454.8,422.0 455.4,421.2 456.0,420.4 456.7,419.6 457.3,418.9 457.9,418.1 458.5,417.3 459.2,416.5 459.8,415.7 460.4,414.9 461.0,414.2 461.7,413.4 462.3,412.6 463.0,411.9 463.6,411.1 464.2,410.3 464.9,409.6 465.5,408.8 466.2,408.0 466.8,407.3 467.5,406.5 468.1,405.8 468.8,405.0 469.5,404.3 470.1,403.6 470.8,402.8 471.5,402.1 472.1,401.4 472.8,400.6 473.5,399.9 474.2,399.2 474.9,398.4 475.5,397.7 476.2,397.0 476.9,396.3 477.6,395.6 478.3,394.9 479.0,394.1 479.7,393.4 480.4,392.7 481.1,392.0"/>
<path stroke-dasharray="12 9" stroke-dashoffset="20" d="M521.9,357.1 522.7,356.5 523.5,355.9 524.3,355.3 525.1,354.7 525.9,354.1 526.7,353.6 527.5,353.0 528.3,352.4 529.1,351.8 530.0,351.2 530.8,350.7 531.6,350.1 532.4,349.5 533.2,348.9 534.1,348.4 534.9,347.8 535.7,347.2 536.6,346.7 537.4,346.1 538.2,345.5 539.0,345.0 539.9,344.4 540.7,343.8 541.6,343.3 542.4,342.7 543.2,342.2 544.1,341.6 544.9,341.1 545.8,340.5 546.6,340.0 547.4,339.4 548.3,338.9 549.1,338.3 550.0,337.8 550.8,337.3 551.7,336.7 552.5,336.2 553.4,335.7 554.3,335.1 555.1,334.6 556.0,334.1 556.8,333.5 557.7,333.0 558.5,332.5 559.4,331.9 560.3,331.4 561.1,330.9 562.0,330.4 562.9,329.8 563.7,329.3 564.6,328.8 565.5,328.3 566.3,327.8 567.2,327.3 568.1,326.7 569.0,326.2 569.8,325.7 570.7,325.2 571.6,324.7 572.5,324.2 573.3,323.7 574.2,323.2 575.1,322.7 576.0,322.2 576.9,321.7 577.8,321.2 578.6,320.7 579.5,320.2 580.4,319.7 581.3,319.2 582.2,318.7 583.1,318.2 584.0,317.7 584.8,317.2 585.7,316.7 586.6,316.2 587.5,315.7 588.4,315.2 589.3,314.7 590.2,314.3 591.1,313.8 592.0,313.3 592.9,312.8 593.8,312.3 594.7,311.8 595.6,311.4 596.5,310.9 597.4,310.4 598.3,309.9 599.2,309.4 600.1,309.0"/>
<path stroke-dasharray="12 9" stroke-dashoffset="20" d="M641.0,288.3 642.0,287.9 642.9,287.5 643.8,287.0 644.7,286.6 645.6,286.1 646.5,285.7 647.5,285.2 648.4,284.8 649.3,284.4 650.2,283.9 651.1,283.5 652.0,283.0 653.0,282.6 653.9,282.2 654.8,281.7 655.7,281.3 656.6,280.8 657.5,280.4 658.5,280.0 659.4,279.5 660.3,279.1 661.2,278.7 662.1,278.2 663.0,277.8 664.0,277.3 664.9,276.9 665.8,276.5 666.7,276.0 667.6,275.6 668.5,275.2 669.4,274.7 670.4,274.3 671.3,273.9 672.2,273.4 673.1,273.0 674.0,272.6 674.9,272.2 675.8,271.7 676.8,271.3 677.7,270.9 678.6,270.4 679.5,270.0 680.4,269.6 681.3,269.2 682.2,268.7 683.2,268.3 684.1,267.9 685.0,267.5 685.9,267.1 686.8,266.6 687.7,266.2 688.7,265.8 689.6,265.4 690.5,265.0 691.4,264.6 692.3,264.2 693.2,263.8 694.1,263.3 695.1,262.9 696.0,262.5 696.9,262.1 697.8,261.7 698.7,261.3 699.6,260.9 700.6,260.5 701.5,260.1 702.4,259.7 703.3,259.3 704.2,259.0 705.2,258.6 706.1,258.2 707.0,257.8 707.9,257.4 708.8,257.0 709.8,256.6 710.7,256.3 711.6,255.9 712.5,255.5 713.5,255.1 714.4,254.8 715.3,254.4 716.2,254.0 717.2,253.6 718.1,253.3 719.0,252.9 719.9,252.6 720.9,252.2 721.8,251.8 722.7,251.5 723.7,251.1 724.6,250.8 725.5,250.4 726.5,250.1 727.4,249.8 728.3,249.4 729.2,249.1 730.2,248.7 731.1,248.4 732.1,248.1 733.0,247.7 733.9,247.4 734.9,247.1 735.8,246.8 736.7,246.4 737.7,246.1 738.6,245.8 739.6,245.5 740.5,245.2 741.5,244.9 742.4,244.6 743.3,244.3 744.3,244.0 745.2,243.7 746.2,243.4 747.1,243.1 748.1,242.8 749.0,242.5 750.0,242.3 750.9,242.0 751.9,241.7 752.9,241.4 753.8,241.2 754.8,240.9 755.7,240.6 756.7,240.4 757.6,240.1 758.6,239.9 759.6,239.6 760.5,239.4 761.5,239.1 762.5,238.9 763.4,238.7 764.4,238.4 765.4,238.2 766.3,238.0 767.3,237.7 768.3,237.5 769.3,237.3 770.2,237.1 771.2,236.9 772.2,236.7 773.2,236.5 774.1,236.3 775.1,236.1 776.1,235.9 777.1,235.7 778.1,235.5 779.1,235.3 780.0,235.2 781.0,235.0 782.0,234.8 783.0,234.7 784.0,234.5 785.0,234.3 786.0,234.2 787.0,234.0 788.0,233.9 789.0,233.8 790.0,233.6 791.0,233.5 792.0,233.4 793.0,233.2 794.0,233.1 795.0,233.0 796.1,232.9 797.1,232.8 798.1,232.7"/>
</g>
<path stroke-width="2.3" d="M327.7,577.5 329.9,576.8 332.0,576.1 334.1,575.3 336.1,574.5 338.1,573.6 340.0,572.7 341.9,571.8 343.7,570.8 345.5,569.7 347.2,568.6 348.9,567.5 350.5,566.3 352.1,565.1 353.7,563.9 355.2,562.6 356.7,561.3 358.1,559.9 359.5,558.5 360.9,557.1 362.2,555.7 363.5,554.2 364.8,552.7 366.1,551.1 367.3,549.6 368.4,548.0 369.6,546.4 370.7,544.7 371.8,543.1 372.9,541.4 373.9,539.6 374.9,537.9 375.9,536.2 376.9,534.4 377.9,532.6 378.8,530.8 379.7,528.9 380.6,527.1"/>
<path d="M327.7,577.5 329.9,576.8 332.0,576.1 334.1,575.3 336.1,574.5 338.1,573.6 340.0,572.7 341.9,571.8 343.7,570.8 345.5,569.7 347.2,568.6 348.9,567.5 350.5,566.3 352.1,565.1 353.7,563.9 355.2,562.6 356.7,561.3 358.1,559.9 359.5,558.5 360.9,557.1 362.2,555.7 363.5,554.2 364.8,552.7 366.1,551.1 367.3,549.6 368.4,548.0 369.6,546.4 370.7,544.7 371.8,543.1 372.9,541.4 373.9,539.6 374.9,537.9 375.9,536.2 376.9,534.4 377.9,532.6 378.8,530.8 379.7,528.9 380.6,527.1 381.5,525.2 382.4,523.4 383.2,521.5 384.1,519.6 384.9,517.7 385.8,515.8 386.6,513.8 387.4,511.9 388.2,510.0 389.0,508.0 389.8,506.1 390.6,504.1 391.4,502.2 392.2,500.2 393.0,498.2 393.7,496.3 394.5,494.3 395.3,492.4 396.1,490.4 396.9,488.4 397.7,486.5 398.5,484.6 399.4,482.6 400.2,480.7 401.1,478.8 401.9,476.9 402.8,475.0 403.7,473.1 404.5,471.2 405.4,469.3 406.4,467.5 407.3,465.6 408.2,463.7 409.2,461.9 410.1,460.1 411.1,458.3 412.1,456.4 413.1,454.6 414.1,452.8 415.1,451.1 416.1,449.3 417.1,447.5 418.2,445.7 419.2,444.0 420.3,442.2 421.4,440.5 422.4,438.7 423.5,437.0 424.6,435.3 425.7,433.5 426.9,431.8 428.0,430.1 429.1,428.4 430.3,426.7 431.4,425.0 432.6,423.3 433.7,421.6 434.9,420.0 436.1,418.3 437.3,416.6 438.5,414.9 439.7,413.3 440.9,411.6 442.1,410.0 443.3,408.3 444.6,406.7 445.8,405.0 447.0,403.4 448.3,401.7 449.6,400.1 450.8,398.5 452.1,396.8 453.4,395.2 454.6,393.6 455.9,392.0 457.2,390.3 458.5,388.7 459.8,387.1 461.2,385.5 462.5,383.9 463.8,382.3 465.1,380.7 466.5,379.1 467.8,377.5 469.1,375.9 470.5,374.3 471.9,372.7 473.2,371.1 474.6,369.5 476.0,368.0 477.3,366.4 478.7,364.8 480.1,363.2 481.5,361.7 482.9,360.1 484.3,358.6 485.7,357.0 487.2,355.5 488.6,354.0 490.0,352.4 491.5,350.9 492.9,349.4 494.3,347.9 495.8,346.3 497.3,344.8 498.7,343.3 500.2,341.8 501.7,340.4 503.2,338.9 504.6,337.4 506.1,335.9 507.6,334.5 509.1,333.0 510.6,331.5 512.2,330.1 513.7,328.7 515.2,327.2 516.7,325.8 518.3,324.4 519.8,323.0 521.4,321.6 522.9,320.2 524.5,318.8 526.0,317.4 527.6,316.0 529.2,314.7 530.7,313.3 532.3,312.0 533.9,310.6 535.5,309.3 537.1,307.9 538.7,306.6 540.3,305.3 541.9,304.0 543.6,302.7 545.2,301.4 546.8,300.2 548.5,298.9 550.1,297.6 551.8,296.4 553.4,295.1 555.1,293.9 556.7,292.7 558.4,291.5 560.1,290.3 561.7,289.1 563.4,287.9 565.1,286.7 566.8,285.6 568.5,284.4 570.2,283.3 571.9,282.1 573.6,281.0 575.4,279.9 577.1,278.8 578.8,277.7 580.5,276.6 582.3,275.5 584.0,274.4 585.8,273.3 587.5,272.3 589.3,271.2 591.0,270.2 592.8,269.2 594.6,268.1 596.3,267.1 598.1,266.1 599.9,265.1 601.7,264.1 603.5,263.1 605.3,262.1 607.1,261.1 608.9,260.2 610.7,259.2 612.5,258.2 614.3,257.3 616.1,256.3 618.0,255.4 619.8,254.5 621.6,253.6 623.5,252.6 625.3,251.7 627.2,250.8 629.0,249.9 630.9,249.0 632.7,248.1 634.6,247.3 636.4,246.4 638.3,245.5 640.2,244.7 642.1,243.8 643.9,243.0 645.8,242.1 647.7,241.3 649.6,240.4 651.5,239.6 653.4,238.8 655.3,237.9 657.2,237.1 659.1,236.3 661.0,235.5 662.9,234.7 664.9,233.9 666.8,233.1 668.7,232.3 670.6,231.5 672.6,230.8 674.5,230.0 676.4,229.2 678.4,228.5 680.3,227.7 682.2,226.9 684.2,226.2 686.1,225.5 688.1,224.7 690.1,224.0 692.0,223.3 694.0,222.5 695.9,221.8 697.9,221.1 699.9,220.4 701.9,219.7 703.8,219.0 705.8,218.3 707.8,217.7 709.8,217.0 711.7,216.3 713.7,215.6 715.7,215.0 717.7,214.3 719.7,213.7 721.7,213.1 723.7,212.4 725.7,211.8 727.7,211.2 729.7,210.6 731.7,210.0 733.7,209.4 735.7,208.8 737.7,208.2 739.7,207.6 741.7,207.0 743.8,206.5 745.8,205.9 747.8,205.3 749.8,204.8 751.8,204.3 753.9,203.7 755.9,203.2 757.9,202.7 759.9,202.2 762.0,201.7 764.0,201.2 766.0,200.7 768.0,200.2 770.1,199.7 772.1,199.3 774.1,198.8 776.2,198.4 778.2,197.9 780.2,197.5 782.3,197.0 784.3,196.6 786.4,196.2 788.4,195.8 790.4,195.4 792.5,195.0 794.5,194.7 796.6,194.3 798.6,193.9 800.7,193.6 802.7,193.2 804.7,192.9 806.8,192.5 808.8,192.2 810.9,191.9 812.9,191.6 815.0,191.3 817.0,191.0 819.1,190.7 821.1,190.5 823.2,190.2 825.2,190.0 827.2,189.7 829.3,189.5 831.3,189.2 833.4,189.0 835.4,188.8 837.5,188.6 839.5,188.4 841.6,188.2 843.6,188.1 845.7,187.9 847.7,187.7 849.8,187.6 851.8,187.4 853.9,187.3 856.0,187.2 858.0,187.1 860.1,187.0 862.1,186.9 864.2,186.8 866.2,186.7 868.3,186.6 870.3,186.6 872.4,186.5 874.4,186.5 876.5,186.5 878.5,186.4 880.6,186.4 882.7,186.4 884.7,186.4 886.8,186.4 888.8,186.5 890.9,186.5 892.9,186.5 895.0,186.6 897.0,186.7 899.1,186.7 901.2,186.8 903.2,186.9 905.3,187.0 907.3,187.1 909.4,187.2 911.4,187.3 913.5,187.5 915.6,187.6 917.6,187.8 919.7,187.9 921.7,188.1 923.8,188.3 925.9,188.5 927.9,188.7 930.0,188.9 932.0,189.1 934.1,189.4 936.1,189.6 938.2,189.9 940.3,190.1 942.3,190.4 944.4,190.7 946.4,191.0 948.5,191.3 950.6,191.6 952.6,191.9 954.7,192.2 956.7,192.6 958.8,192.9 960.8,193.3 962.9,193.7 965.0,194.0 967.0,194.4 969.1,194.8 971.1,195.2 973.2,195.7 975.3,196.1 977.3,196.5 979.4,197.0 981.4,197.5 983.5,197.9 985.5,198.4 987.6,198.9"/>
<path d="M379.2,527.3 380.0,525.6 380.8,523.9 381.6,522.1 382.5,520.4 383.3,518.7 384.1,517.0 385.0,515.3 385.8,513.6 386.6,511.9 387.5,510.2 388.3,508.5 389.2,506.9 390.1,505.2 390.9,503.5 391.8,501.8 392.7,500.1 393.5,498.4 394.4,496.7 395.3,495.1 396.2,493.4 397.1,491.7 398.0,490.0 398.9,488.4 399.8,486.7 400.7,485.0 401.6,483.4 402.5,481.7 403.4,480.1 404.3,478.4 405.2,476.8 406.2,475.1 407.1,473.5 408.0,471.8 409.0,470.2 409.9,468.5 410.9,466.9 411.8,465.3 412.8,463.6 413.7,462.0 414.7,460.4 415.7,458.8 416.7,457.1 417.6,455.5 418.6,453.9 419.6,452.3 420.6,450.7 421.6,449.1 422.6,447.5 423.6,445.9 424.6,444.3 425.6,442.7 426.6,441.1 427.6,439.5 428.7,437.9 429.7,436.3 430.7,434.8 431.8,433.2 432.8,431.6 433.9,430.1 434.9,428.5 436.0,426.9 437.0,425.4 438.1,423.8 439.2,422.3 440.2,420.7 441.3,419.2 442.4,417.6 443.5,416.1 444.6,414.6 445.7,413.0 446.8,411.5 447.9,410.0 449.0,408.5 450.1,406.9 451.2,405.4 452.3,403.9 453.5,402.4 454.6,400.9 455.7,399.4 456.9,397.9 458.0,396.5 459.2,395.0 460.3,393.5 461.5,392.0 462.7,390.5 463.8,389.1 465.0,387.6 466.2,386.1 467.4,384.7 468.6,383.2 469.8,381.8 471.0,380.3 472.2,378.9 473.4,377.5 474.6,376.0 475.8,374.6 477.0,373.2 478.3,371.8 479.5,370.4 480.7,369.0 482.0,367.6 483.2,366.2 484.5,364.8 485.7,363.4 487.0,362.0 488.3,360.6 489.6,359.2 490.8,357.9 492.1,356.5 493.4,355.1 494.7,353.8 496.0,352.4 497.3,351.1 498.6,349.7 499.9,348.4 501.3,347.1 502.6,345.7 503.9,344.4 505.3,343.1 506.6,341.8 507.9,340.5 509.3,339.2 510.7,337.9 512.0,336.6 513.4,335.3 514.8,334.0 516.1,332.7 517.5,331.5 518.9,330.2 520.3,328.9 521.7,327.7 523.1,326.4 524.5,325.2 525.9,323.9 527.3,322.7 528.8,321.5 530.2,320.2 531.6,319.0 533.0,317.8 534.5,316.6 535.9,315.4 537.4,314.2 538.8,313.0 540.3,311.8 541.8,310.6 543.2,309.4 544.7,308.2 546.2,307.1 547.7,305.9 549.1,304.7 550.6,303.6 552.1,302.4 553.6,301.3 555.1,300.1 556.6,299.0 558.1,297.9 559.7,296.8 561.2,295.6 562.7,294.5 564.2,293.4 565.8,292.3 567.3,291.2 568.8,290.1 570.4,289.0 571.9,288.0 573.5,286.9 575.0,285.8 576.6,284.7 578.2,283.7 579.7,282.6 581.3,281.6 582.9,280.5 584.5,279.5 586.0,278.5 587.6,277.4 589.2,276.4 590.8,275.4 592.4,274.4 594.0,273.4 595.6,272.4 597.2,271.4 598.8,270.4 600.5,269.4 602.1,268.4 603.7,267.4 605.3,266.5 607.0,265.5 608.6,264.6 610.2,263.6 611.9,262.7 613.5,261.7 615.2,260.8 616.8,259.8 618.5,258.9 620.1,258.0 621.8,257.1 623.4,256.2 625.1,255.3 626.8,254.4 628.5,253.5 630.1,252.6 631.8,251.7 633.5,250.9 635.2,250.0 636.9,249.1 638.6,248.3 640.3,247.4 642.0,246.6 643.7,245.7 645.4,244.9 647.1,244.1 648.8,243.2 650.5,242.4 652.2,241.6 653.9,240.8 655.6,240.0 657.4,239.2 659.1,238.4 660.8,237.6 662.6,236.8 664.3,236.1 666.0,235.3 667.8,234.5 669.5,233.8 671.3,233.0 673.0,232.3 674.8,231.6 676.5,230.8 678.3,230.1 680.0,229.4 681.8,228.7 683.5,228.0 685.3,227.3 687.1,226.6 688.8,225.9 690.6,225.2 692.4,224.5 694.2,223.8 695.9,223.2 697.7,222.5 699.5,221.8 701.3,221.2 703.1,220.6 704.9,219.9 706.7,219.3 708.4,218.7 710.2,218.0 712.0,217.4 713.8,216.8 715.6,216.2 717.4,215.6 719.2,215.0 721.0,214.4 722.9,213.9 724.7,213.3 726.5,212.7 728.3,212.2 730.1,211.6 731.9,211.1 733.7,210.5 735.6,210.0 737.4,209.4 739.2,208.9 741.0,208.4 742.9,207.9 744.7,207.4 746.5,206.9 748.3,206.4 750.2,205.9 752.0,205.4 753.8,204.9 755.7,204.5 757.5,204.0 759.4,203.6 761.2,203.1 763.0,202.7 764.9,202.2 766.7,201.8 768.6,201.4 770.4,200.9 772.3,200.5 774.1,200.1 776.0,199.7 777.8,199.3 779.7,198.9 781.5,198.5 783.4,198.2 785.2,197.8 787.1,197.4 789.0,197.1 790.8,196.7 792.7,196.4 794.5,196.0 796.4,195.7 798.3,195.4 800.1,195.1 802.0,194.8 803.8,194.4 805.7,194.1 807.6,193.8 809.4,193.6 811.3,193.3 813.2,193.0 815.0,192.7 816.9,192.5 818.8,192.2 820.7,192.0 822.5,191.7 824.4,191.5 826.3,191.3 828.1,191.0 830.0,190.8 831.9,190.6 833.8,190.4 835.6,190.2 837.5,190.0 839.4,189.8 841.2,189.6 843.1,189.5 845.0,189.3 846.9,189.1 848.7,189.0 850.6,188.8 852.5,188.7 854.4,188.6 856.2,188.4 858.1,188.3 860.0,188.2 861.9,188.1 863.7,188.0 865.6,187.9 867.5,187.8 869.4,187.7 871.2,187.7 873.1,187.6 875.0,187.5 876.9,187.5 878.7,187.4 880.6,187.4 882.5,187.4 884.4,187.3 886.2,187.3 888.1,187.3 890.0,187.3 891.8,187.3 893.7,187.3 895.6,187.3 897.5,187.3 899.3,187.4 901.2,187.4 903.1,187.4 904.9,187.5 906.8,187.5 908.7,187.6 910.5,187.6 912.4,187.7 914.3,187.8 916.1,187.9 918.0,188.0"/>
<path d="M380.0,527.8 380.9,526.2 381.7,524.6 382.5,523.0 383.4,521.4 384.2,519.8 385.0,518.2 385.9,516.6 386.7,515.0 387.6,513.4 388.4,511.8 389.3,510.2 390.1,508.6 391.0,507.0 391.8,505.4 392.7,503.8 393.6,502.2 394.4,500.6 395.3,499.0 396.2,497.5 397.1,495.9 398.0,494.3 398.8,492.7 399.7,491.2 400.6,489.6 401.5,488.0 402.4,486.5 403.3,484.9 404.2,483.3 405.1,481.8 406.0,480.2 406.9,478.7 407.9,477.1 408.8,475.6 409.7,474.0 410.6,472.5 411.6,470.9 412.5,469.4 413.4,467.9 414.4,466.3 415.3,464.8 416.3,463.3 417.2,461.7 418.2,460.2 419.1,458.7 420.1,457.2 421.0,455.7 422.0,454.2 423.0,452.6 423.9,451.1 424.9,449.6 425.9,448.1 426.9,446.6 427.9,445.1 428.9,443.6 429.9,442.2 430.9,440.7 431.9,439.2 432.9,437.7 433.9,436.2 434.9,434.8 435.9,433.3 436.9,431.8 438.0,430.3 439.0,428.9 440.0,427.4 441.1,426.0 442.1,424.5 443.1,423.1 444.2,421.6 445.3,420.2 446.3,418.7 447.4,417.3 448.4,415.9 449.5,414.4 450.6,413.0 451.6,411.6 452.7,410.2 453.8,408.7 454.9,407.3 456.0,405.9 457.1,404.5 458.2,403.1 459.3,401.7 460.4,400.3 461.5,398.9 462.6,397.5 463.8,396.2 464.9,394.8 466.0,393.4 467.1,392.0 468.3,390.7 469.4,389.3 470.6,387.9 471.7,386.6 472.9,385.2 474.0,383.9 475.2,382.5 476.4,381.2 477.6,379.8 478.7,378.5 479.9,377.2 481.1,375.8 482.3,374.5 483.5,373.2 484.7,371.9 485.9,370.6 487.1,369.3 488.3,368.0 489.5,366.7 490.8,365.4 492.0,364.1 493.2,362.8 494.5,361.5 495.7,360.2 496.9,358.9 498.2,357.7 499.4,356.4 500.7,355.1 502.0,353.9 503.2,352.6 504.5,351.4 505.8,350.1 507.1,348.9 508.4,347.7 509.7,346.4 511.0,345.2 512.3,344.0 513.6,342.8 514.9,341.6 516.2,340.4 517.5,339.1 518.8,337.9 520.2,336.8 521.5,335.6 522.8,334.4 524.2,333.2 525.5,332.0 526.9,330.8 528.2,329.7 529.6,328.5 531.0,327.3 532.3,326.2 533.7,325.0 535.1,323.9 536.5,322.8 537.9,321.6 539.2,320.5 540.6,319.4 542.0,318.2 543.4,317.1 544.8,316.0 546.3,314.9 547.7,313.8 549.1,312.7 550.5,311.6 551.9,310.5 553.4,309.4 554.8,308.3 556.2,307.3 557.7,306.2 559.1,305.1 560.6,304.1 562.0,303.0 563.5,301.9 564.9,300.9 566.4,299.8 567.9,298.8 569.3,297.8 570.8,296.7 572.3,295.7 573.8,294.7 575.3,293.7 576.7,292.7 578.2,291.7 579.7,290.7 581.2,289.7 582.7,288.7 584.2,287.7 585.7,286.7 587.3,285.7 588.8,284.8 590.3,283.8 591.8,282.8 593.3,281.9 594.9,280.9 596.4,280.0 597.9,279.0 599.5,278.1 601.0,277.1 602.6,276.2 604.1,275.3 605.7,274.4 607.2,273.5 608.8,272.5 610.3,271.6 611.9,270.7 613.5,269.8 615.0,269.0 616.6,268.1 618.2,267.2 619.8,266.3 621.3,265.4 622.9,264.6 624.5,263.7 626.1,262.9 627.7,262.0 629.3,261.2 630.9,260.3 632.5,259.5 634.1,258.7 635.7,257.8 637.3,257.0 638.9,256.2 640.5,255.4 642.1,254.6 643.8,253.8 645.4,253.0 647.0,252.2 648.6,251.4 650.2,250.6 651.9,249.9 653.5,249.1 655.1,248.3 656.8,247.6 658.4,246.8 660.1,246.1 661.7,245.3 663.4,244.6 665.0,243.8 666.7,243.1 668.3,242.4 670.0,241.7 671.6,241.0 673.3,240.3 674.9,239.5 676.6,238.9 678.3,238.2 679.9,237.5 681.6,236.8 683.3,236.1 685.0,235.4 686.6,234.8 688.3,234.1 690.0,233.5 691.7,232.8 693.3,232.2 695.0,231.5 696.7,230.9 698.4,230.3 700.1,229.6 701.8,229.0 703.5,228.4 705.2,227.8 706.9,227.2 708.6,226.6 710.3,226.0 712.0,225.4 713.7,224.8 715.4,224.3 717.1,223.7 718.8,223.1 720.5,222.6 722.2,222.0 723.9,221.5 725.6,220.9 727.3,220.4 729.1,219.9 730.8,219.3 732.5,218.8 734.2,218.3 735.9,217.8 737.7,217.3 739.4,216.8 741.1,216.3 742.8,215.8 744.6,215.3 746.3,214.8 748.0,214.4 749.7,213.9 751.5,213.4 753.2,213.0 754.9,212.5 756.7,212.1 758.4,211.7 760.1,211.2 761.9,210.8 763.6,210.4 765.4,210.0 767.1,209.6 768.8,209.2 770.6,208.8 772.3,208.4 774.1,208.0 775.8,207.6 777.6,207.3 779.3,206.9 781.0,206.6 782.8,206.2 784.5,205.9 786.3,205.6 788.0,205.3 789.8,205.0 791.5,204.7 793.3,204.4 795.0,204.2 796.8,203.9 798.6,203.7 800.3,203.4 802.1,203.2 803.8,203.0 805.6,202.8 807.3,202.6 809.1,202.4 810.9,202.2 812.6,202.1 814.4,201.9 816.1,201.8 817.9,201.7 819.7,201.6 821.4,201.5 823.2,201.4 825.0,201.3 826.7,201.3 828.5,201.2 830.3,201.2 832.0,201.2 833.8,201.2 835.6,201.2 837.3,201.2 839.1,201.3 840.9,201.3 842.7,201.4 844.4,201.5 846.2,201.6 848.0,201.7 849.7,201.9 851.5,202.0 853.3,202.2 855.1,202.4 856.8,202.6 858.6,202.9 860.4,203.1 862.2,203.4 864.0,203.6 865.7,203.9 867.5,204.2 869.3,204.6 871.1,204.9 872.9,205.3 874.6,205.7 876.4,206.1 878.2,206.5 880.0,207.0 881.8,207.5 883.5,208.0 885.3,208.5 887.1,209.0"/>
<path d="M382.1,526.6 383.0,525.1 383.9,523.7 384.8,522.2 385.7,520.7 386.6,519.3 387.5,517.8 388.4,516.3 389.3,514.8 390.2,513.3 391.1,511.9 392.0,510.4 392.9,508.9 393.8,507.4 394.7,505.9 395.6,504.5 396.5,503.0 397.4,501.5 398.3,500.0 399.2,498.5 400.1,497.0 401.0,495.6 401.9,494.1 402.8,492.6 403.7,491.1 404.6,489.6 405.5,488.1 406.4,486.6 407.3,485.1 408.2,483.7 409.1,482.2 410.0,480.7 410.9,479.2 411.9,477.7 412.8,476.2 413.7,474.7 414.6,473.3 415.5,471.8 416.4,470.3 417.3,468.8 418.3,467.3 419.2,465.9 420.1,464.4 421.0,462.9 422.0,461.4 422.9,460.0 423.8,458.5 424.8,457.0 425.7,455.5 426.6,454.1 427.6,452.6 428.5,451.2 429.5,449.7 430.4,448.2 431.4,446.8 432.3,445.3 433.3,443.9 434.3,442.4 435.2,441.0 436.2,439.5 437.1,438.1 438.1,436.6 439.1,435.2 440.1,433.8 441.0,432.3 442.0,430.9 443.0,429.5 444.0,428.1 445.0,426.6 446.0,425.2 447.0,423.8 448.0,422.4 449.0,421.0 450.0,419.6 451.0,418.2 452.0,416.8 453.1,415.4 454.1,414.0 455.1,412.6 456.1,411.2 457.2,409.9 458.2,408.5 459.3,407.1 460.3,405.7 461.4,404.4 462.4,403.0 463.5,401.7 464.6,400.3 465.6,399.0 466.7,397.6 467.8,396.3 468.9,395.0 470.0,393.7 471.1,392.3 472.2,391.0 473.3,389.7 474.4,388.4 475.5,387.1 476.6,385.8 477.7,384.5 478.9,383.3 480.0,382.0 481.1,380.7 482.3,379.4 483.4,378.2 484.6,376.9 485.8,375.7 486.9,374.4 488.1,373.2 489.3,372.0 490.5,370.7 491.7,369.5 492.9,368.3 494.1,367.1 495.3,365.9 496.5,364.7 497.7,363.5 498.9,362.4 500.2,361.2 501.4,360.0 502.7,358.9 503.9,357.7 505.2,356.6 506.4,355.4 507.7,354.3 509.0,353.2 510.3,352.1 511.6,351.0 512.9,349.8 514.2,348.7 515.5,347.7 516.8,346.6 518.1,345.5 519.4,344.4 520.8,343.3 522.1,342.3 523.4,341.2 524.8,340.2 526.1,339.1 527.5,338.1 528.8,337.0 530.2,336.0 531.6,335.0 533.0,334.0 534.3,333.0 535.7,332.0 537.1,330.9 538.5,329.9 539.9,329.0 541.3,328.0 542.7,327.0 544.1,326.0 545.5,325.0 547.0,324.1 548.4,323.1 549.8,322.1 551.2,321.2 552.7,320.2 554.1,319.3 555.6,318.3 557.0,317.4 558.4,316.5 559.9,315.5 561.4,314.6 562.8,313.7 564.3,312.7 565.8,311.8 567.2,310.9 568.7,310.0 570.2,309.1 571.7,308.2 573.1,307.3 574.6,306.4 576.1,305.5 577.6,304.6 579.1,303.7 580.6,302.9 582.1,302.0 583.6,301.1 585.1,300.2 586.6,299.4 588.1,298.5 589.6,297.6 591.1,296.8 592.7,295.9 594.2,295.0 595.7,294.2 597.2,293.3 598.8,292.5 600.3,291.6 601.8,290.8 603.3,289.9 604.9,289.1 606.4,288.3 607.9,287.4 609.5,286.6 611.0,285.7 612.5,284.9 614.1,284.1 615.6,283.3 617.2,282.4 618.7,281.6 620.3,280.8 621.8,279.9 623.4,279.1 624.9,278.3 626.4,277.5 628.0,276.7 629.5,275.8 631.1,275.0 632.6,274.2 634.2,273.4 635.7,272.6 637.3,271.8 638.8,270.9 640.4,270.1 642.0,269.3 643.5,268.5 645.1,267.7 646.6,266.9 648.2,266.1 649.7,265.2 651.3,264.4 652.8,263.6 654.4,262.8 655.9,262.0 657.5,261.2 659.0,260.4 660.6,259.6 662.1,258.7 663.7,257.9 665.2,257.1 666.7,256.3 668.3,255.5 669.8,254.7 671.4,253.9 672.9,253.1 674.5,252.2 676.0,251.4 677.6,250.6 679.1,249.8 680.7,249.0 682.2,248.3 683.7,247.5 685.3,246.7 686.8,245.9 688.4,245.1 689.9,244.4 691.5,243.6 693.0,242.8 694.6,242.1 696.1,241.3 697.7,240.6 699.3,239.9 700.8,239.1 702.4,238.4 703.9,237.7 705.5,237.0 707.1,236.3 708.6,235.6 710.2,234.9 711.8,234.3 713.3,233.6 714.9,233.0 716.5,232.3 718.1,231.7 719.7,231.1 721.2,230.5 722.8,229.9 724.4,229.3 726.0,228.7 727.6,228.2 729.2,227.6 730.8,227.1 732.4,226.5 734.0,226.0 735.6,225.5 737.2,225.1 738.9,224.6 740.5,224.1 742.1,223.7 743.7,223.3 745.4,222.9 747.0,222.5 748.6,222.1 750.3,221.7 751.9,221.4 753.6,221.1 755.2,220.8 756.9,220.5 758.6,220.2 760.2,219.9 761.9,219.7 763.5,219.4 765.2,219.2 766.9,219.0 768.6,218.8 770.3,218.6 771.9,218.5 773.6,218.3 775.3,218.2 777.0,218.1 778.7,218.0 780.4,217.9 782.1,217.9 783.8,217.8 785.5,217.8 787.2,217.8 788.9,217.8 790.6,217.8 792.3,217.8 794.0,217.9 795.7,218.0 797.4,218.1 799.1,218.2 800.8,218.3 802.5,218.4 804.2,218.6 805.9,218.7 807.6,218.9 809.4,219.1 811.1,219.3 812.8,219.6 814.5,219.8 816.2,220.1 817.9,220.3 819.6,220.6 821.3,220.9 823.1,221.2 824.8,221.6 826.5,221.9 828.2,222.3 829.9,222.7 831.6,223.0 833.3,223.4 835.0,223.8 836.7,224.3 838.4,224.7 840.1,225.2 841.8,225.6 843.5,226.1 845.1,226.6 846.8,227.1 848.5,227.6 850.2,228.1 851.9,228.6 853.5,229.2 855.2,229.7 856.9,230.3 858.5,230.8 860.2,231.4 861.9,232.0 863.5,232.6 865.2,233.2 866.8,233.8"/>
<path d="M383.0,527.5 383.9,526.3 384.7,525.1 385.6,523.8 386.5,522.6 387.3,521.3 388.2,520.1 389.0,518.8 389.9,517.6 390.7,516.3 391.5,515.1 392.4,513.8 393.2,512.5 394.1,511.3 394.9,510.0 395.7,508.7 396.6,507.4 397.4,506.2 398.2,504.9 399.0,503.6 399.9,502.3 400.7,501.0 401.5,499.7 402.3,498.4 403.1,497.1 404.0,495.8 404.8,494.5 405.6,493.2 406.4,491.9 407.2,490.6 408.0,489.3 408.9,488.0 409.7,486.7 410.5,485.4 411.3,484.1 412.1,482.8 412.9,481.5 413.7,480.2 414.5,478.9 415.4,477.6 416.2,476.3 417.0,475.0 417.8,473.7 418.6,472.4 419.4,471.1 420.3,469.7 421.1,468.4 421.9,467.1 422.7,465.8 423.5,464.5 424.4,463.2 425.2,461.9 426.0,460.6 426.8,459.3 427.7,458.0 428.5,456.8 429.3,455.5 430.2,454.2 431.0,452.9 431.8,451.6 432.7,450.3 433.5,449.0 434.4,447.8 435.2,446.5 436.1,445.2 436.9,443.9 437.8,442.7 438.6,441.4 439.5,440.1 440.4,438.9 441.2,437.6 442.1,436.4 443.0,435.1 443.9,433.9 444.8,432.6 445.6,431.4 446.5,430.1 447.4,428.9 448.3,427.7 449.2,426.4 450.1,425.2 451.0,424.0 452.0,422.8 452.9,421.6 453.8,420.4 454.7,419.2 455.7,418.0 456.6,416.8 457.5,415.6 458.5,414.4 459.4,413.3 460.4,412.1 461.4,410.9 462.3,409.8 463.3,408.6 464.3,407.5 465.3,406.4 466.3,405.2 467.3,404.1 468.3,403.0 469.3,401.8 470.3,400.7 471.3,399.6 472.3,398.5 473.3,397.4 474.4,396.3 475.4,395.3 476.4,394.2 477.5,393.1 478.5,392.0 479.6,391.0 480.7,389.9 481.7,388.8 482.8,387.8 483.9,386.8 485.0,385.7 486.0,384.7 487.1,383.7 488.2,382.6 489.3,381.6 490.4,380.6 491.5,379.6 492.6,378.6 493.8,377.6 494.9,376.6 496.0,375.6 497.1,374.6 498.3,373.6 499.4,372.6 500.6,371.7 501.7,370.7 502.9,369.7 504.0,368.8 505.2,367.8 506.3,366.9 507.5,365.9 508.7,365.0 509.8,364.1 511.0,363.1 512.2,362.2 513.4,361.3 514.6,360.3 515.8,359.4 517.0,358.5 518.2,357.6 519.4,356.7 520.6,355.8 521.8,354.9 523.0,354.0 524.2,353.1 525.4,352.2 526.7,351.4 527.9,350.5 529.1,349.6 530.4,348.7 531.6,347.9 532.8,347.0 534.1,346.2 535.3,345.3 536.6,344.5 537.8,343.6 539.1,342.8 540.4,341.9 541.6,341.1 542.9,340.3 544.2,339.4 545.4,338.6 546.7,337.8 548.0,337.0 549.3,336.1 550.5,335.3 551.8,334.5 553.1,333.7 554.4,332.9 555.7,332.1 557.0,331.3 558.3,330.5 559.6,329.7 560.9,328.9 562.2,328.1 563.5,327.4 564.8,326.6 566.1,325.8 567.4,325.0 568.8,324.3 570.1,323.5 571.4,322.7 572.7,322.0 574.0,321.2 575.4,320.4 576.7,319.7 578.0,318.9 579.4,318.2 580.7,317.4 582.0,316.7 583.4,316.0 584.7,315.2 586.0,314.5 587.4,313.7 588.7,313.0 590.1,312.3 591.4,311.6 592.8,310.8 594.1,310.1 595.5,309.4 596.8,308.7 598.2,307.9 599.5,307.2 600.9,306.5 602.2,305.8 603.6,305.1 605.0,304.4 606.3,303.7 607.7,303.0 609.0,302.3 610.4,301.6 611.8,300.9 613.1,300.2 614.5,299.5 615.9,298.8 617.2,298.1 618.6,297.4 620.0,296.7 621.3,296.0 622.7,295.3 624.1,294.7 625.5,294.0 626.8,293.3 628.2,292.6 629.6,291.9 631.0,291.3 632.3,290.6 633.7,289.9 635.1,289.2 636.5,288.6 637.8,287.9 639.2,287.2 640.6,286.6 642.0,285.9 643.3,285.2 644.7,284.6 646.1,283.9 647.5,283.2 648.9,282.6 650.2,281.9 651.6,281.2 653.0,280.6 654.4,279.9 655.7,279.3 657.1,278.6 658.5,278.0 659.9,277.3 661.2,276.6 662.6,276.0 664.0,275.3 665.4,274.7 666.7,274.0 668.1,273.4 669.5,272.7 670.9,272.1 672.2,271.4 673.6,270.8 675.0,270.1 676.4,269.5 677.7,268.9 679.1,268.2 680.5,267.6 681.9,266.9 683.2,266.3 684.6,265.7 686.0,265.1 687.4,264.4 688.7,263.8 690.1,263.2 691.5,262.6 692.9,261.9 694.2,261.3 695.6,260.7 697.0,260.1 698.4,259.5 699.8,258.9 701.2,258.3 702.5,257.7 703.9,257.1 705.3,256.5 706.7,256.0 708.1,255.4 709.5,254.8 710.9,254.2 712.3,253.7 713.6,253.1 715.0,252.6 716.4,252.0 717.8,251.5 719.2,250.9 720.6,250.4 722.0,249.8 723.4,249.3 724.8,248.8 726.2,248.3 727.6,247.7 729.1,247.2 730.5,246.7 731.9,246.2 733.3,245.7 734.7,245.2 736.1,244.8 737.5,244.3 739.0,243.8 740.4,243.3 741.8,242.9 743.2,242.4 744.7,242.0 746.1,241.6 747.5,241.1 749.0,240.7 750.4,240.3 751.8,239.9 753.3,239.5 754.7,239.1 756.2,238.7 757.6,238.3 759.1,237.9 760.5,237.5 762.0,237.2 763.5,236.8 764.9,236.5 766.4,236.1 767.9,235.8 769.3,235.5 770.8,235.1 772.3,234.8 773.8,234.5 775.3,234.2 776.7,233.9 778.2,233.7 779.7,233.4 781.2,233.1 782.7,232.9 784.2,232.7 785.7,232.4 787.2,232.2 788.7,232.0 790.3,231.8 791.8,231.6 793.3,231.4 794.8,231.2 796.4,231.0 797.9,230.9"/>
</g>
</g><!--/traj-->
<circle cx="1150" cy="603" r="7" fill="#000"/>
<g id="txt">
<text x="93" y="96" font-size="33" textLength="462" lengthAdjust="spacingAndGlyphs" stroke="#000" stroke-width="0.45">Wing Dihedral Angle: 12.5 deg</text>
<text x="91" y="141" font-size="33" textLength="317" lengthAdjust="spacingAndGlyphs" stroke="#000" stroke-width="0.45">Circling Radius: 30 m</text>
<text x="91" y="185.7" font-size="33" textLength="383" lengthAdjust="spacingAndGlyphs" stroke="#000" stroke-width="0.45">Start Rolling Angle: 0 deg</text>
<text x="546" y="675.3" font-size="33" textLength="228" lengthAdjust="spacingAndGlyphs" stroke="#000" stroke-width="0.45">View from side</text>
<text x="812" y="157" font-size="29.4">13 deg</text>
<text x="950" y="135" font-size="29.4">Hook Position Angle</text>
<text x="1045" y="169" font-size="29.4">9 deg</text>
<text x="906.6" y="243" font-size="29.4">17 deg</text>
<text x="843" y="268.6" font-size="29.4">4 deg</text>
<text x="733" y="279" font-size="29.4">21 deg</text>
</g>
</svg>
</body></html>
